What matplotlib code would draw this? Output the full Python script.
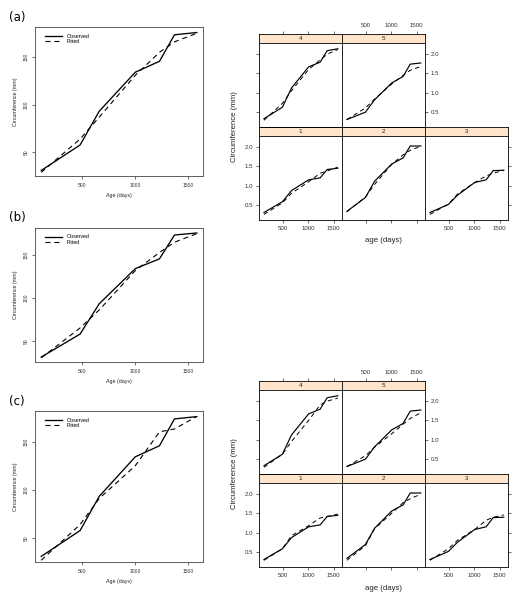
import matplotlib
matplotlib.use("Agg")
import matplotlib.pyplot as plt
import numpy as np

# ---------------- data ----------------
age = [118, 484, 664, 1004, 1231, 1372, 1582]

# mean observed circumference (mm)
observed_mean = [31.0, 57.8, 93.2, 134.2, 145.6, 173.4, 175.8]
fitted_mean_a = [29, 64, 87, 131, 155, 166, 175]
fitted_mean_b = [30, 65, 86, 132, 153, 165, 175]
fitted_mean_c = [27, 64, 91, 125, 160, 163, 176]

trees = ["1", "2", "3", "4", "5"]
obs_tree = {
    "1": [0.30, 0.58, 0.87, 1.15, 1.20, 1.42, 1.45],
    "2": [0.33, 0.69, 1.11, 1.56, 1.72, 2.03, 2.03],
    "3": [0.30, 0.51, 0.75, 1.08, 1.15, 1.39, 1.40],
    "4": [0.32, 0.62, 1.12, 1.67, 1.79, 2.09, 2.14],
    "5": [0.30, 0.49, 0.81, 1.25, 1.42, 1.74, 1.77],
}
fit_tree_a = {
    "1": [0.25, 0.55, 0.80, 1.10, 1.32, 1.38, 1.48],
    "2": [0.32, 0.70, 1.03, 1.55, 1.80, 1.92, 2.02],
    "3": [0.25, 0.52, 0.78, 1.08, 1.25, 1.32, 1.40],
    "4": [0.28, 0.72, 1.05, 1.60, 1.85, 2.00, 2.12],
    "5": [0.30, 0.60, 0.83, 1.22, 1.45, 1.58, 1.68],
}
fit_tree_c = {
    "1": [0.28, 0.58, 0.92, 1.18, 1.38, 1.42, 1.48],
    "2": [0.28, 0.66, 1.10, 1.50, 1.78, 1.88, 2.00],
    "3": [0.28, 0.58, 0.80, 1.08, 1.32, 1.40, 1.46],
    "4": [0.28, 0.62, 0.95, 1.50, 1.90, 2.00, 2.08],
    "5": [0.30, 0.58, 0.80, 1.15, 1.40, 1.55, 1.70],
}

x_ticks = [500, 1000, 1500]
left_yticks = [50, 100, 150]
lat_yticks = [0.5, 1.0, 1.5, 2.0]

# ---------------- layout ----------------
W, H = 525, 601
fig = plt.figure(figsize=(W / 100, H / 100), dpi=100)
plt.rcParams["font.family"] = ["Liberation Sans", "DejaVu Sans"]


def ax_px(x0, y0, x1, y1, **kw):
    return fig.add_axes([x0 / W, 1 - y1 / H, (x1 - x0) / W, (y1 - y0) / H], **kw)


def pad(lo, hi, f=0.04):
    r = hi - lo
    return lo - f * r, hi + f * r


XL = pad(min(age), max(age))
YL = pad(min(observed_mean), max(observed_mean))
DASH = (0, (4.5, 3.5))


def left_plot(box, fitted, label):
    x0, y0, x1, y1 = box
    ax = ax_px(x0, y0, x1, y1)
    ax.plot(age, observed_mean, color="black", lw=0.95, label="Observed")
    ax.plot(age, fitted, color="black", lw=0.8, linestyle=DASH, label="Fitted")
    ax.set_xlim(*XL)
    ax.set_ylim(*YL)
    ax.set_xticks(x_ticks)
    ax.set_yticks(left_yticks)
    ax.tick_params(labelsize=3.6, length=2.2, width=0.5, pad=2.5, colors="#333333")
    for t in ax.get_yticklabels():
        t.set_rotation(90)
        t.set_va("center")
    for s in ax.spines.values():
        s.set_linewidth(0.6)
        s.set_color("#444444")
    ax.set_xlabel("Age (days)", fontsize=3.8, labelpad=4, color="#222222")
    ax.set_ylabel("Circumference (mm)", fontsize=3.8, labelpad=4, color="#222222")
    ax.legend(loc="upper left", bbox_to_anchor=(0.04, 0.98), frameon=False,
              fontsize=3.8, handlelength=3.2, handletextpad=0.8,
              labelspacing=0.1, borderaxespad=0.3)
    fig.text(9 / W, 1 - (y0 - 10) / H, label, fontsize=8.5, family="DejaVu Sans",
             va="center", ha="left")
    return ax


left_plot((35, 27, 203, 176), fitted_mean_a, "(a)")
left_plot((35, 228, 203, 362), fitted_mean_b, "(b)")
left_plot((35, 411, 203, 562), fitted_mean_c, "(c)")

# ---------------- lattice ----------------
LAT_YL = (0.105, 2.29)
LAT_XL = (20, 1665)
COLS = [259, 342, 425, 508]
STRIP_H = 9
BODY_H = 84
TL = dict(labelsize=4.4, length=2.5, width=0.5, pad=1.5, colors="#333333")


def lattice(top, fitted):
    positions = {"4": (0, 0), "5": (1, 0), "1": (0, 1), "2": (1, 1), "3": (2, 1)}
    for tree in trees:
        c, r = positions[tree]
        xa, xb = COLS[c], COLS[c + 1]
        st = top + r * (STRIP_H + BODY_H)
        sax = ax_px(xa, st, xb, st + STRIP_H)
        sax.set_facecolor("#ffe5cc")
        sax.set_xlim(*LAT_XL)
        sax.set_ylim(0, 1)
        sax.text(0.5, 0.5, tree, transform=sax.transAxes, ha="center",
                 va="center", fontsize=4.6, color="#222222")
        for s in sax.spines.values():
            s.set_linewidth(0.6)
        sax.set_yticks([])
        sax.tick_params(axis="x", which="both", bottom=False, labelbottom=False)
        if r == 0:
            sax.set_xticks(x_ticks)
            sax.tick_params(axis="x", top=True, direction="out",
                            labeltop=(tree == "5"), **TL)
        else:
            sax.set_xticks([])

        bax = ax_px(xa, st + STRIP_H, xb, st + STRIP_H + BODY_H)
        bax.plot(age, obs_tree[tree], color="black", lw=0.85)
        bax.plot(age, fitted[tree], color="black", lw=0.7, linestyle=DASH)
        bax.set_xlim(*LAT_XL)
        bax.set_ylim(*LAT_YL)
        for s in bax.spines.values():
            s.set_linewidth(0.6)
        bax.set_xticks(x_ticks)
        bax.set_yticks(lat_yticks)
        bax.tick_params(bottom=False, left=False, labelbottom=False, labelleft=False, **TL)
        if r == 1:
            bax.tick_params(axis="x", bottom=True, labelbottom=(tree != "2"))
        if c == 0:
            bax.tick_params(axis="y", left=True, labelleft=(r == 1))
        if tree == "5":
            bax.tick_params(axis="y", right=True, labelright=True)
        if tree == "3":
            bax.tick_params(axis="y", right=True, labelright=False)
    fig.text(234 / W, 1 - (top + 93) / H, "Circumference (mm)", rotation=90,
             ha="center", va="center", fontsize=5.6, color="#222222")
    fig.text(383.5 / W, 1 - (top + 207) / H, "age (days)", ha="center",
             va="center", fontsize=5.6, color="#222222")


lattice(34, fit_tree_a)
lattice(381, fit_tree_c)

fig.savefig("out.png", dpi=100)
